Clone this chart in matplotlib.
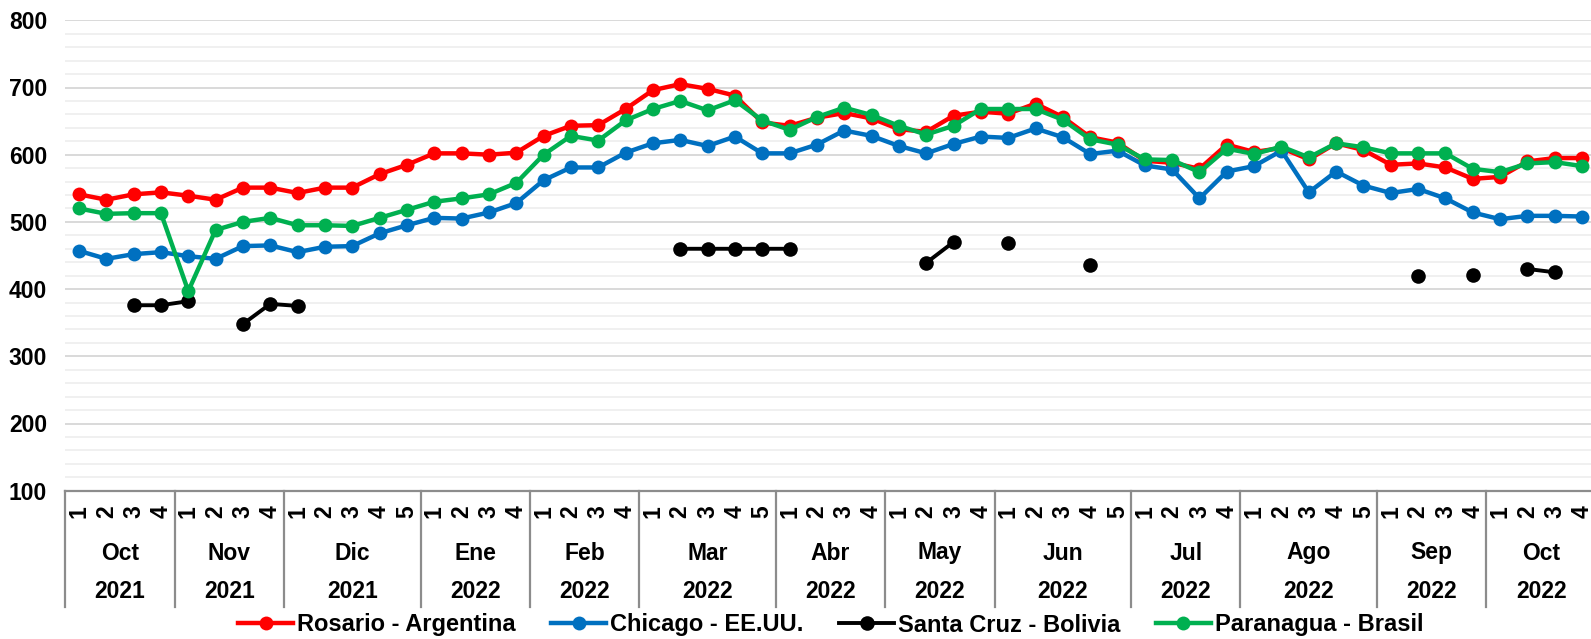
import matplotlib
matplotlib.use("Agg")
import matplotlib.pyplot as plt
import matplotlib.transforms as mtransforms
import numpy as np

# ---------------- data ----------------
months = ['Oct', 'Nov', 'Dic', 'Ene', 'Feb', 'Mar', 'Abr', 'May', 'Jun', 'Jul', 'Ago', 'Sep', 'Oct']
years = ['2021', '2021', '2021', '2022', '2022', '2022', '2022', '2022', '2022', '2022', '2022', '2022', '2022']
weeks_per_month = [4, 4, 5, 4, 4, 5, 4, 4, 5, 4, 5, 4, 4]

rosario = [541, 533, 541, 544, 539, 533, 551, 551, 543, 551, 551, 571, 585,
           602, 602, 600, 603, 628, 643, 644, 668, 696, 705, 698, 688, 648,
           643, 655, 662, 654, 638, 634, 658, 664, 661, 676, 656, 626, 618,
           591, 588, 579, 615, 604, 610, 593, 617, 607, 585, 587, 581, 564,
           567, 590, 595, 595]
chicago = [457, 445, 452, 455, 449, 445, 464, 465, 455, 463, 464, 483, 495,
           506, 505, 514, 528, 562, 581, 581, 603, 617, 622, 613, 627, 602,
           602, 615, 636, 628, 613, 602, 616, 627, 625, 639, 626, 601, 606,
           584, 578, 535, 575, 583, 606, 544, 575, 554, 543, 549, 535, 514,
           504, 509, 509, 508]
santa_cruz = [None, None, 376, 376, 382, None, 348, 378, 375, None, None, None, None,
              None, None, None, None, None, None, None, None, None, 460, 460, 460, 460,
              460, None, None, None, None, 439, 470, None, 468, None, None, 436, None,
              None, None, None, None, None, None, None, None, None, None, 420, None, 421,
              None, 430, 425, None]
paranagua = [520, 512, 513, 513, 397, 488, 500, 506, 495, 495, 494, 506, 518,
             530, 535, 541, 558, 600, 628, 621, 651, 668, 680, 666, 681, 651,
             637, 656, 670, 659, 643, 630, 643, 668, 668, 668, 652, 623, 615,
             593, 592, 574, 609, 601, 612, 596, 617, 611, 602, 602, 602, 579,
             574, 587, 589, 583]

series_names = ['Rosario - Argentina', 'Chicago - EE.UU.', 'Santa Cruz - Bolivia', 'Paranagua - Brasil']
series_colors = ['#FF0000', '#0070C0', '#000000', '#00B050']

# ---------------- figure ----------------
plt.rcParams['font.family'] = ['Liberation Sans', 'DejaVu Sans']
plt.rcParams['font.weight'] = 'bold'

W, H = 1591, 639
fig = plt.figure(figsize=(W / 100, H / 100), dpi=100)
ax_left, ax_top, ax_bottom = 65.3, 20.3, 490.7
slot = 27.33
n = sum(weeks_per_month)
ax_right = ax_left + n * slot
ax = fig.add_axes([ax_left / W, 1 - ax_bottom / H, (ax_right - ax_left) / W, (ax_bottom - ax_top) / H])

x = np.arange(n)

def to_arr(v):
    return np.array([np.nan if a is None else a for a in v], dtype=float)

all_series = [rosario, chicago, santa_cruz, paranagua]
for vals, name, col in zip(all_series, series_names, series_colors):
    is_black = col == '#000000'
    ax.plot(x, to_arr(vals), color=col, lw=2.8 if is_black else 3.2,
            marker='o', markersize=10.5 if is_black else 10, markeredgewidth=0,
            label=name, solid_joinstyle='round', zorder=3, clip_on=False)

ax.set_xlim(-0.5, n - 0.5)
ax.set_ylim(100, 800)
ax.set_yticks(np.arange(100, 801, 100))
ax.set_yticks(np.arange(100, 801, 20), minor=True)
ax.grid(which='major', axis='y', color='#d9d9d9', lw=1.4, zorder=0)
ax.grid(which='minor', axis='y', color='#f0f0f0', lw=1.4, zorder=0)
ax.set_axisbelow(True)
for s in ['left', 'right', 'top']:
    ax.spines[s].set_visible(False)
ax.spines['bottom'].set_color('#8c8c8c')
ax.spines['bottom'].set_linewidth(1.6)
ax.tick_params(axis='y', which='both', length=0, pad=13, labelsize=16.5)
ax.tick_params(axis='x', which='both', length=0, labelbottom=False)
for lbl in ax.get_yticklabels():
    lbl.set_fontweight('bold')

# multi-level category axis
trans = mtransforms.blended_transform_factory(ax.transData, ax.transAxes)
def ay(ypix):
    return (ax_bottom - ypix) / (ax_bottom - ax_top)

start = 0
bounds = [0]
for m, yr, k in zip(months, years, weeks_per_month):
    for w in range(k):
        ax.text(start + w, ay(512), str(w + 1), transform=trans, rotation=90,
                ha='center', va='center', fontsize=16.5, fontweight='bold', clip_on=False)
    center = start + (k - 1) / 2
    ax.text(center, ay(553), m, transform=trans, ha='center', va='center',
            fontsize=16.5, fontweight='bold')
    ax.text(center, ay(591), yr, transform=trans, ha='center', va='center',
            fontsize=16.5, fontweight='bold')
    start += k
    bounds.append(start)

for b in bounds:
    ax.plot([b - 0.5, b - 0.5], [ay(490.7), ay(607)], transform=trans, color='#8c8c8c',
            lw=1.6, clip_on=False, zorder=2)

leg = ax.legend(loc='center', bbox_to_anchor=(0.5, ay(625)), ncol=4, frameon=False,
                prop={'weight': 'bold', 'size': 17}, handlelength=2.35,
                handletextpad=0.15, columnspacing=1.5, borderaxespad=0)

fig.savefig('out.png', dpi=100)
